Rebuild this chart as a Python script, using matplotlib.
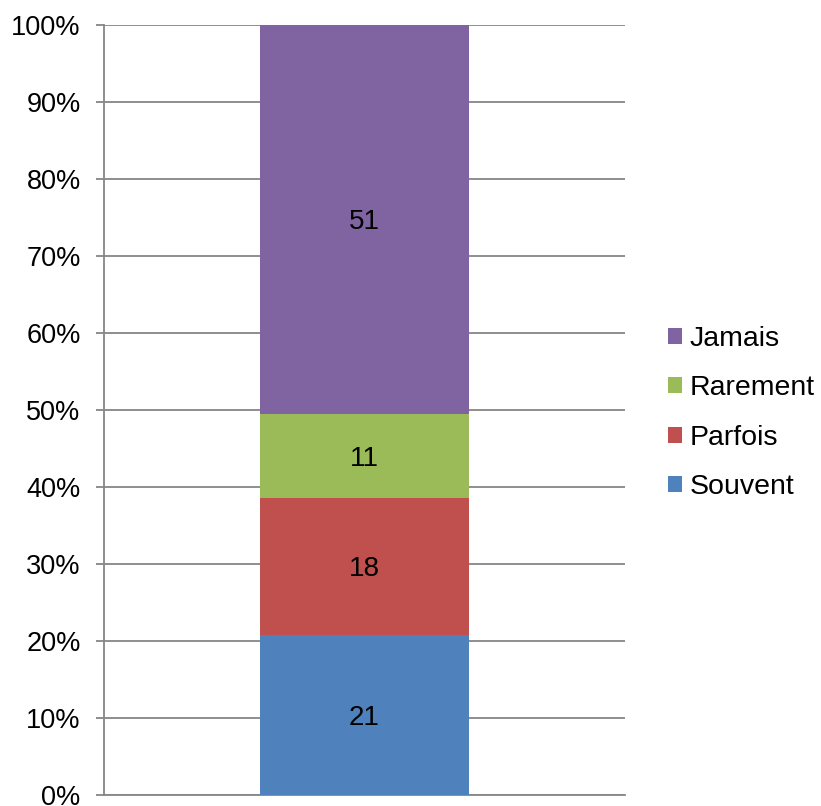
import matplotlib
matplotlib.use("Agg")
import matplotlib.pyplot as plt
from matplotlib.patches import Patch
from matplotlib.ticker import PercentFormatter

plt.rcParams['font.family'] = ['Liberation Sans', 'DejaVu Sans']

categories = ['Souvent', 'Parfois', 'Rarement', 'Jamais']
values = [21, 18, 11, 51]
colors = ['#4f81bd', '#c0504d', '#9bbb59', '#8064a2']

total = sum(values)
shares = [v / total * 100 for v in values]

fig = plt.figure(figsize=(8.21, 8.06), dpi=100)
ax = fig.add_axes([0.1267, 0.0137, 0.6346, 0.9553])

bottom = 0
for cat, v, s, c in zip(categories, values, shares, colors):
    ax.bar(0.5, s, width=0.401, bottom=bottom, color=c, zorder=3)
    ax.text(0.5, bottom + s / 2, str(v), ha='center', va='center_baseline',
            fontsize=20, zorder=4)
    bottom += s

ax.set_xlim(0, 1)
ax.set_ylim(0, 100)
ax.set_yticks(range(0, 101, 10))
ax.yaxis.set_major_formatter(PercentFormatter(decimals=0))
ax.set_xticks([])
ax.grid(axis='y', color='#868686', linewidth=1.3, zorder=0)
for side in ['top', 'right']:
    ax.spines[side].set_visible(False)
for side in ['left', 'bottom']:
    ax.spines[side].set_color('#868686')
    ax.spines[side].set_linewidth(1.3)
ax.tick_params(axis='y', labelsize=19.5, length=5.8, width=1.3, color='#868686', pad=11)

handles = [Patch(facecolor=c, label=cat) for cat, c in zip(categories, colors)][::-1]
fig.legend(handles=handles, loc='center left', bbox_to_anchor=(0.8136, 0.4875),
           frameon=False, fontsize=20.5, handlelength=0.5, handleheight=0.5,
           handletextpad=0.25, labelspacing=0.82, borderaxespad=0, borderpad=0)

fig.savefig('out.png', dpi=100)
